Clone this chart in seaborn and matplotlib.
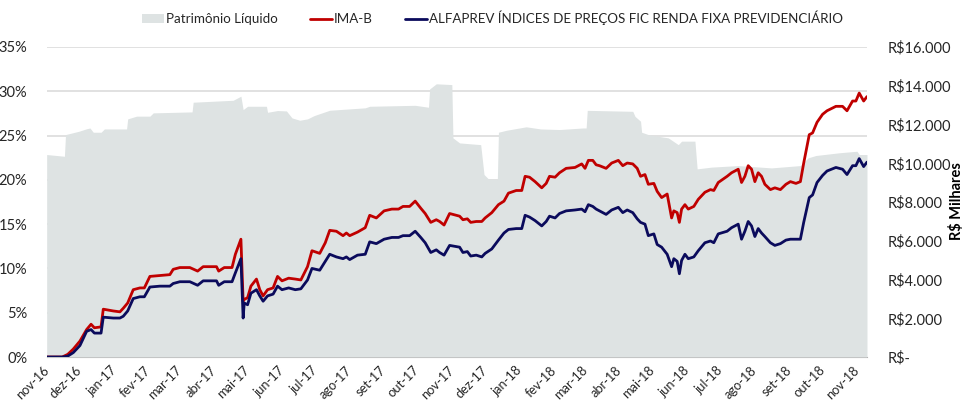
import numpy as np
import pandas as pd
import seaborn as sns
import matplotlib.pyplot as plt
from matplotlib.patches import Patch
from matplotlib.lines import Line2D

# ---- data ----
line_dates = [
    "2016-11-01", "2016-11-08", "2016-11-15", "2016-11-20", "2016-11-25", "2016-12-01", "2016-12-07",
    "2016-12-11", "2016-12-14", "2016-12-20", "2016-12-22", "2016-12-31", "2017-01-06", "2017-01-09",
    "2017-01-13", "2017-01-18", "2017-01-24", "2017-01-28", "2017-02-02", "2017-02-11", "2017-02-20",
    "2017-02-23", "2017-03-01", "2017-03-10", "2017-03-17", "2017-03-22", "2017-04-03", "2017-04-05",
    "2017-04-10", "2017-04-17", "2017-04-20", "2017-04-25", "2017-04-27", "2017-04-28", "2017-05-01",
    "2017-05-04", "2017-05-09", "2017-05-12", "2017-05-15", "2017-05-19", "2017-05-24", "2017-05-28",
    "2017-06-01", "2017-06-07", "2017-06-13", "2017-06-18", "2017-06-24", "2017-06-28", "2017-07-05",
    "2017-07-10", "2017-07-14", "2017-07-20", "2017-07-26", "2017-07-29", "2017-08-01", "2017-08-08",
    "2017-08-15", "2017-08-19", "2017-08-25", "2017-09-01", "2017-09-08", "2017-09-14", "2017-09-18",
    "2017-09-24", "2017-09-29", "2017-10-04", "2017-10-08", "2017-10-13", "2017-10-18", "2017-10-21",
    "2017-10-25", "2017-10-30", "2017-11-08", "2017-11-11", "2017-11-15", "2017-11-18", "2017-11-23",
    "2017-11-28", "2017-12-01", "2017-12-07", "2017-12-13", "2017-12-18", "2017-12-22", "2017-12-29",
    "2018-01-03", "2018-01-06", "2018-01-10", "2018-01-15", "2018-01-21", "2018-01-25", "2018-01-28",
    "2018-02-02", "2018-02-06", "2018-02-12", "2018-02-20", "2018-02-26", "2018-03-01", "2018-03-04",
    "2018-03-08", "2018-03-11", "2018-03-14", "2018-03-20", "2018-03-25", "2018-03-31", "2018-04-04",
    "2018-04-08", "2018-04-13", "2018-04-17", "2018-04-20", "2018-04-24", "2018-04-27", "2018-05-02",
    "2018-05-05", "2018-05-09", "2018-05-14", "2018-05-18", "2018-05-20", "2018-05-23", "2018-05-25",
    "2018-05-27", "2018-05-30", "2018-06-02", "2018-06-07", "2018-06-11", "2018-06-17", "2018-06-22",
    "2018-06-25", "2018-06-29", "2018-07-07", "2018-07-11", "2018-07-17", "2018-07-20", "2018-07-23",
    "2018-07-26", "2018-07-29", "2018-08-01", "2018-08-04", "2018-08-07", "2018-08-10", "2018-08-15",
    "2018-08-19", "2018-08-24", "2018-08-29", "2018-09-02", "2018-09-07", "2018-09-11", "2018-09-14",
    "2018-09-19", "2018-09-22", "2018-09-26", "2018-10-01", "2018-10-05", "2018-10-13", "2018-10-19",
    "2018-10-23", "2018-10-28", "2018-10-31", "2018-11-03", "2018-11-07", "2018-11-10",
]
ima_b = [
    0.0, 0.0, 0.0, 0.3, 0.9, 1.8, 3.1,
    3.7, 3.3, 3.4, 5.4, 5.2, 5.1, 5.5,
    6.1, 7.6, 7.8, 7.8, 9.1, 9.2, 9.3,
    9.9, 10.1, 10.1, 9.7, 10.2, 10.2, 9.7,
    10.1, 10.1, 11.6, 13.3, 6.3, 6.5, 6.7,
    8.0, 8.8, 7.6, 6.9, 7.6, 7.8, 9.1,
    8.6, 8.9, 8.8, 8.7, 10.2, 12.0, 11.7,
    12.9, 14.3, 14.2, 13.7, 14.0, 13.7, 14.1,
    14.6, 16.0, 15.7, 16.5, 16.7, 16.7, 17.0,
    17.0, 17.6, 16.8, 16.2, 15.2, 15.5, 15.3,
    14.9, 16.2, 15.9, 15.5, 15.6, 15.2, 15.3,
    15.3, 15.7, 16.3, 17.2, 17.6, 18.5, 18.8,
    18.8, 20.4, 20.3, 19.8, 19.1, 19.6, 20.4,
    20.3, 20.8, 21.3, 21.4, 21.8, 21.3, 22.2,
    22.2, 21.7, 21.6, 21.3, 21.9, 22.2, 21.6,
    21.9, 21.8, 21.3, 20.4, 20.6, 19.5, 19.6,
    18.7, 18.0, 18.4, 15.7, 16.5, 16.3, 15.2,
    16.7, 17.2, 16.7, 17.0, 17.8, 18.6, 18.9,
    18.8, 19.7, 20.4, 20.8, 21.2, 19.7, 20.4,
    21.6, 21.2, 19.8, 20.8, 20.4, 19.5, 18.9,
    19.1, 18.9, 19.5, 19.8, 19.6, 19.8, 21.9,
    25.1, 25.3, 26.5, 27.4, 27.8, 28.3, 28.3,
    27.8, 28.9, 28.9, 29.8, 28.9, 29.4,
]
alfaprev = [
    0.0, 0.0, 0.0, 0.1, 0.5, 1.3, 2.9,
    3.1, 2.7, 2.7, 4.5, 4.4, 4.4, 4.6,
    5.2, 6.6, 6.8, 6.8, 7.9, 8.0, 8.0,
    8.3, 8.5, 8.5, 8.1, 8.6, 8.6, 8.1,
    8.5, 8.5, 9.5, 11.1, 4.4, 6.1, 5.9,
    7.2, 7.6, 6.9, 6.3, 6.9, 7.1, 8.0,
    7.6, 7.8, 7.6, 7.7, 8.7, 10.0, 9.8,
    10.8, 11.6, 11.3, 11.1, 11.3, 11.0, 11.5,
    11.6, 13.0, 12.8, 13.3, 13.5, 13.5, 13.7,
    13.7, 14.2, 13.5, 12.9, 11.8, 12.1, 11.8,
    11.5, 12.6, 12.4, 11.8, 11.9, 11.4, 11.5,
    11.3, 11.7, 12.2, 13.2, 14.0, 14.4, 14.5,
    14.5, 16.0, 15.8, 15.4, 14.8, 15.3, 15.9,
    15.7, 16.2, 16.5, 16.6, 16.7, 16.4, 17.2,
    17.0, 16.7, 16.5, 16.1, 16.6, 16.9, 16.3,
    16.6, 16.3, 15.6, 15.2, 15.0, 13.7, 13.9,
    12.7, 12.4, 11.6, 10.2, 11.1, 10.8, 9.4,
    10.9, 11.6, 11.1, 11.3, 12.0, 12.9, 13.1,
    12.9, 13.9, 14.2, 14.6, 15.0, 13.3, 14.2,
    15.3, 14.8, 13.6, 14.5, 14.0, 13.6, 12.9,
    12.6, 12.8, 13.2, 13.3, 13.3, 13.3, 15.2,
    18.0, 18.3, 19.7, 20.5, 21.0, 21.4, 21.2,
    20.6, 21.6, 21.6, 22.4, 21.5, 22.0,
]

pl_dates = [
    "2016-11-01", "2016-11-10", "2016-11-17", "2016-11-18", "2016-11-30", "2016-12-07", "2016-12-10",
    "2016-12-13", "2016-12-20", "2016-12-23", "2017-01-12", "2017-01-13", "2017-01-21", "2017-02-02",
    "2017-02-05", "2017-03-12", "2017-03-13", "2017-04-18", "2017-04-25", "2017-04-27", "2017-05-01",
    "2017-05-18", "2017-05-19", "2017-05-28", "2017-06-05", "2017-06-10", "2017-06-17", "2017-06-24",
    "2017-06-30", "2017-07-14", "2017-08-15", "2017-08-19", "2017-09-29", "2017-10-11", "2017-10-12",
    "2017-10-18", "2017-11-01", "2017-11-02", "2017-11-08", "2017-11-27", "2017-11-30", "2017-12-04",
    "2017-12-12", "2017-12-13", "2017-12-20", "2018-01-07", "2018-01-20", "2018-02-06", "2018-02-27",
    "2018-03-02", "2018-03-03", "2018-04-13", "2018-04-15", "2018-04-20", "2018-04-21", "2018-04-27",
    "2018-05-06", "2018-05-15", "2018-05-24", "2018-05-27", "2018-06-08", "2018-06-10", "2018-06-23",
    "2018-07-17", "2018-08-16", "2018-09-11", "2018-09-18", "2018-09-25", "2018-10-16", "2018-11-01",
    "2018-11-03", "2018-11-10",
]
patrimonio = [
    10450, 10400, 10360, 11480, 11650, 11780, 11820,
    11600, 11600, 11770, 11770, 12290, 12430, 12430,
    12600, 12650, 13150, 13250, 13460, 12770, 12940,
    12940, 12630, 12720, 12700, 12340, 12220, 12290,
    12460, 12735, 12860, 12940, 12990, 12890, 13835,
    14100, 14060, 11310, 11050, 10960, 9420, 9190,
    9160, 11600, 11700, 11880, 11770, 11740, 11820,
    11820, 12730, 12680, 12420, 12170, 11600, 11480,
    11390, 11310, 10960, 11140, 11140, 9710, 9800,
    9880, 9760, 9880, 10280, 10400, 10540, 10620,
    10450, 10450,
]

tick_labels = ["nov-16", "dez-16", "jan-17", "fev-17", "mar-17", "abr-17", "mai-17", "jun-17", "jul-17",
               "ago-17", "set-17", "out-17", "nov-17", "dez-17", "jan-18", "fev-18", "mar-18", "abr-18",
               "mai-18", "jun-18", "jul-18", "ago-18", "set-18", "out-18", "nov-18"]
pct_ticks = [0, 5, 10, 15, 20, 25, 30, 35]
brl_ticks = [0, 2000, 4000, 6000, 8000, 10000, 12000, 14000, 16000]

df_lines = pd.DataFrame({"Date": pd.to_datetime(line_dates), "IMA-B": ima_b, "ALFAPREV": alfaprev})
df_pl = pd.DataFrame({"Date": pd.to_datetime(pl_dates), "PL": patrimonio})

sns.set_style("white")
plt.rcParams["font.family"] = ["Lato", "DejaVu Sans"]

red = "#C00000"
navy = "#0B0B5C"
area_col = "#DEE3E3"
grid_col = "#D9D9D9"
txt_col = "#262626"
fsize = 10.5

fig = plt.figure(figsize=(9.66, 4.03), dpi=100)
ax = fig.add_axes([0.0483, 0.1141, 0.8492, 0.7693])
ax2 = ax.twinx()   # area, R$ scale
ax3 = ax.twinx()   # lines, % scale

xmin, xmax = pd.Timestamp("2016-11-01"), pd.Timestamp("2018-11-10")

# grid on base axis (sits behind the area)
ax.set_ylim(0, 35)
ax.set_yticks(pct_ticks)
ax.set_yticklabels([f"{t}%" for t in pct_ticks], fontsize=fsize, color=txt_col)
ax.yaxis.grid(True, color=grid_col, linewidth=1.1)
ax.tick_params(axis="y", length=0, pad=14)
for s in ["top", "right", "left"]:
    ax.spines[s].set_visible(False)
ax.spines["bottom"].set_color("#A6A6A6")

# patrimonio liquido area
sns.lineplot(data=df_pl, x="Date", y="PL", ax=ax2, color=area_col, linewidth=0)
ax2.fill_between(df_pl.Date, 0, df_pl.PL, color=area_col, linewidth=0)
ax2.set_ylim(0, 16000)
ax2.set_yticks(brl_ticks)
ax2.set_yticklabels(["R$-"] + [f"R${t // 1000}.000" for t in brl_ticks[1:]], fontsize=fsize, color=txt_col)
ax2.tick_params(axis="y", length=0, pad=15)
ax2.set_ylabel("")
for s in ["top", "right", "left", "bottom"]:
    ax2.spines[s].set_visible(False)

# return lines
sns.lineplot(data=df_lines, x="Date", y="IMA-B", ax=ax3, color=red, linewidth=2.0)
sns.lineplot(data=df_lines, x="Date", y="ALFAPREV", ax=ax3, color=navy, linewidth=2.0)
ax3.set_ylim(0, 35)
ax3.set_yticks([])
ax3.set_ylabel("")
for s in ["top", "right", "left", "bottom"]:
    ax3.spines[s].set_visible(False)

tick_dates = pd.date_range("2016-11-01", "2018-11-01", freq="MS")
for a in (ax, ax2, ax3):
    a.set_xlim(xmin, xmax)
    a.set_xlabel("")
ax.set_xticks(tick_dates)
ax.set_xticklabels(tick_labels, rotation=45, ha="right", va="center", rotation_mode="anchor",
                   fontsize=9.3, color=txt_col)
ax.tick_params(axis="x", length=5, color="#A6A6A6", pad=3)

fig.text(0.99, 0.50, "R$ Milhares", rotation=90, ha="center", va="center",
         fontsize=fsize, fontweight="bold", color="#000000")

handles = [Patch(facecolor=area_col, edgecolor="none"),
           Line2D([], [], color=red, linewidth=2.0),
           Line2D([], [], color=navy, linewidth=2.0)]
labels = ["Patrimônio Líquido", "IMA-B", "ALFAPREV ÍNDICES DE PREÇOS FIC RENDA FIXA PREVIDENCIÁRIO"]
fig.legend(handles, labels, loc="center", bbox_to_anchor=(0.51, 0.955), ncol=3, frameon=False,
           handlelength=1.65, handleheight=0.6, handletextpad=0.15, columnspacing=2.4, fontsize=9.6,
           labelcolor=txt_col)

fig.savefig("out.png", dpi=100)
